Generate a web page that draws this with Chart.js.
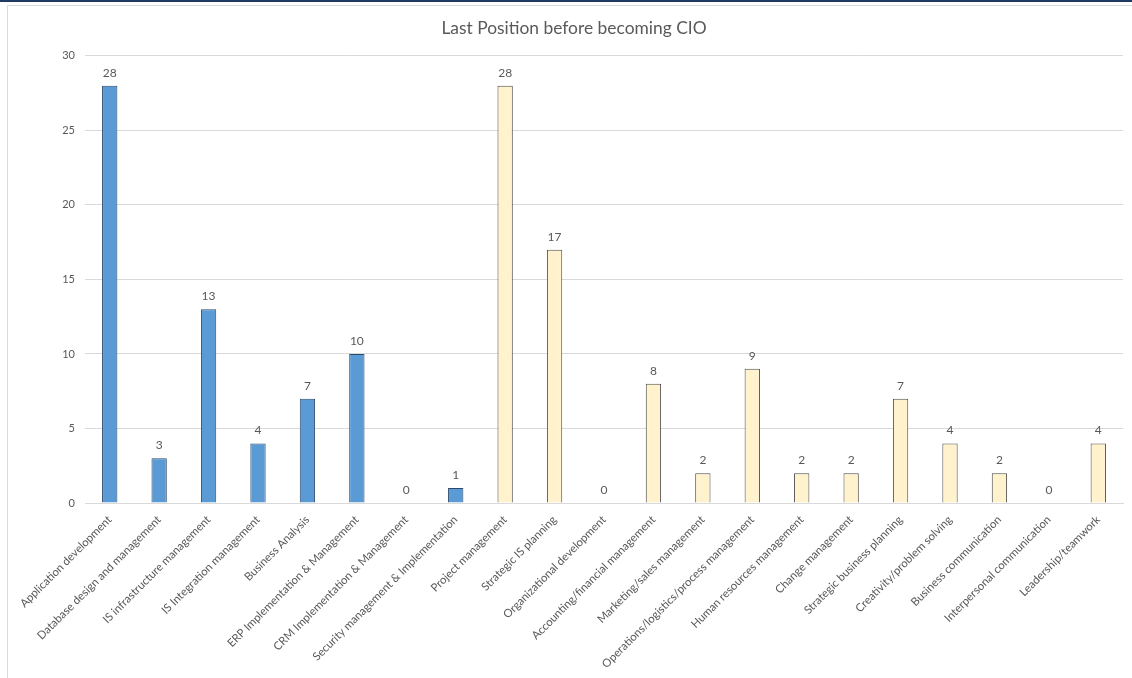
<!DOCTYPE html>
<html>
<head>
<meta charset="utf-8">
<script src="https://cdn.jsdelivr.net/npm/chart.js@4.4.1/dist/chart.umd.min.js"></script>
<style>
  html, body { margin: 0; padding: 0; background: #fff; }
  body { width: 1132px; height: 678px; position: relative; overflow: hidden; }
  #topline { position: absolute; left: 0; top: 0; width: 1132px; height: 2px; background: #1f3b63; }
  #frame { position: absolute; left: 7px; top: 5px; width: 1140px; height: 690px; border: 1px solid #d9d9d9; }
  #wrap { position: absolute; left: 0; top: 0; width: 1148px; height: 678px; }
</style>
</head>
<body>
<div id="topline"></div>
<div id="frame"></div>
<div id="wrap"><canvas id="chart" width="1148" height="678"></canvas></div>
<script>
const categories = [
  'Application development', 'Database design and management', 'IS infrastructure management',
  'IS Integration management', 'Business Analysis', 'ERP Implementation & Management',
  'CRM Implementation & Management', 'Security management & Implementation', 'Project management',
  'Strategic IS planning', 'Organizational development', 'Accounting/financial management',
  'Marketing/sales management', 'Operations/logistics/process management', 'Human resources management',
  'Change management', 'Strategic business planning', 'Creativity/problem solving',
  'Business communication', 'Interpersonal communication', 'Leadership/teamwork'
];
const counts = [28, 3, 13, 4, 7, 10, 0, 1, 28, 17, 0, 8, 2, 9, 2, 2, 7, 4, 2, 0, 4];
// 't' = technical (blue), 'b' = business (cream)
const groups = ['t','t','t','t','t','t','t','t','b','b','b','b','b','b','b','b','b','b','b','b','b'];
const yTicks = [0, 5, 10, 15, 20, 25, 30];

const fillColor = { t: '#5b9bd5', b: '#fff2cc' };
const edgeColor = { t: '#2c4a6b', b: '#4d4d4d' };
const textGray = '#595959';
const FONT = 'Lato, "Open Sans", sans-serif';

// value labels over each bar
const valueLabels = {
  id: 'valueLabels',
  afterDatasetsDraw(chart) {
    const ctx = chart.ctx;
    const meta = chart.getDatasetMeta(0);
    ctx.save();
    ctx.font = '12px ' + FONT;
    ctx.fillStyle = textGray;
    ctx.textAlign = 'center';
    ctx.textBaseline = 'bottom';
    meta.data.forEach((bar, i) => {
      ctx.fillText(String(counts[i]), bar.x, bar.y - 7);
    });
    ctx.restore();
  }
};

new Chart(document.getElementById('chart'), {
  type: 'bar',
  data: {
    labels: categories,
    datasets: [{
      data: counts,
      backgroundColor: groups.map(g => fillColor[g]),
      borderColor: groups.map(g => edgeColor[g]),
      borderWidth: ctx => counts[ctx.dataIndex] === 0 ? 0 : 1,
      borderSkipped: 'start',
      categoryPercentage: 1,
      barPercentage: 0.31
    }]
  },
  options: {
    responsive: false,
    animation: false,
    devicePixelRatio: 1,
    layout: { padding: 0 },
    plugins: {
      legend: { display: false },
      tooltip: { enabled: false },
      title: {
        display: true,
        text: 'Last Position before becoming CIO',
        color: textGray,
        font: { family: FONT, size: 17.4, weight: 'normal', lineHeight: 1.2 },
        padding: { top: 18, bottom: 17 }
      }
    },
    scales: {
      x: {
        grid: { display: false },
        border: { display: true, color: '#d9d9d9' },
        ticks: {
          color: textGray,
          font: { family: FONT, size: 11.3 },
          minRotation: 45,
          maxRotation: 45,
          autoSkip: false,
          padding: 2
        },
        afterFit: s => { s.height = 175; }
      },
      y: {
        min: 0,
        max: 30,
        afterBuildTicks: s => { s.ticks = yTicks.map(v => ({ value: v })); },
        grid: { color: '#d9d9d9', drawTicks: false },
        border: { display: false },
        ticks: {
          color: textGray,
          font: { family: FONT, size: 11 },
          padding: 10
        },
        afterFit: s => { s.width = 85; }
      },
      // empty right-hand spacer so the plot stops short of the frame edge
      yRight: {
        position: 'right',
        min: 0,
        max: 30,
        grid: { display: false, drawOnChartArea: false },
        border: { display: false },
        ticks: { display: false },
        afterFit: s => { s.width = 25; }
      }
    }
  },
  plugins: [valueLabels]
});
</script>
</body>
</html>
